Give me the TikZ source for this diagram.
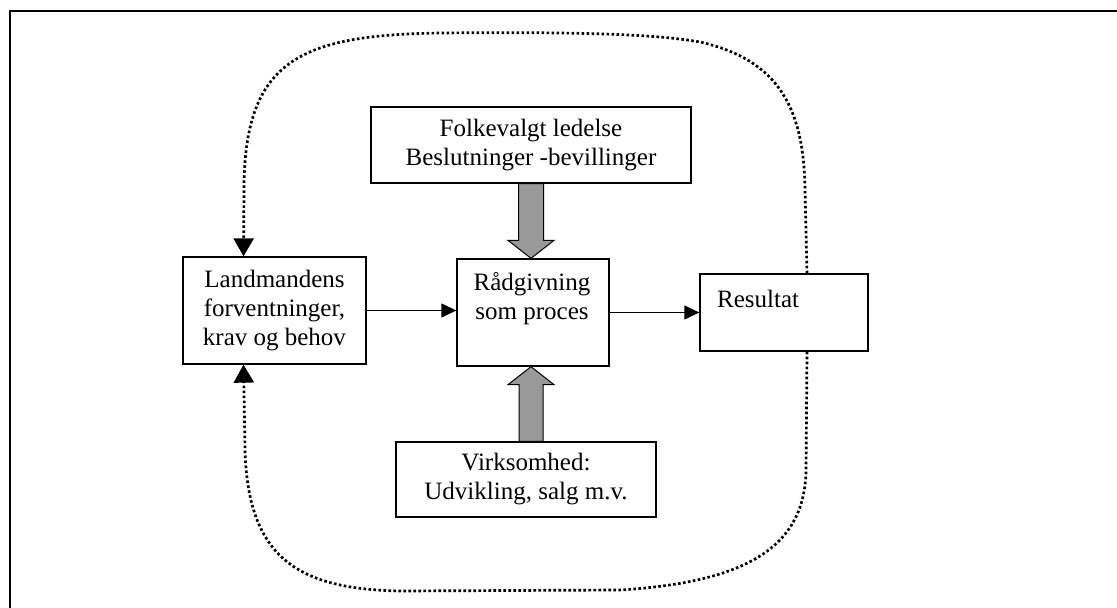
\documentclass[tikz,border=0pt]{standalone}
\usepackage{fontspec}
\setmainfont{Liberation Serif}
\usetikzlibrary{arrows.meta,calc}
\begin{document}
\begin{tikzpicture}[x=1pt,y=-1pt,
  box/.style={draw=black, line width=1.3pt, rectangle, inner sep=0pt, align=center,
    font=\fontsize{25}{29}\selectfont},
  txt/.style={inner sep=0pt, align=center, font=\fontsize{25}{29}\selectfont},
  flow/.style={line width=1.2pt, -{Triangle[length=15pt,width=14pt]}},
  loopline/.style={line width=2.7pt, dash pattern=on 2.6pt off 2.4pt,
    -{Triangle[length=18pt,width=20pt]}},
  blockarrow/.style={fill=black!40, draw=black, line width=1pt}]
\useasboundingbox (0,0) rectangle (1117,608);
\draw[line width=2pt] (9.5,610) -- (9.5,10.5) -- (1120,10.5);

\node[box, minimum width=320pt, minimum height=76pt] (F) at (531,145)
  {Folkevalgt ledelse\\Beslutninger -bevillinger};
\node[box, minimum width=152pt, minimum height=107pt] (R) at (533,312.5) {};
\node[txt, anchor=north] (Rt) at (532,272) {Rådgivning\\som proces};
\node[box, minimum width=168pt, minimum height=77pt] (Res) at (784,312.5) {};
\node[txt, anchor=base west] (Rest) at (717,307) {Resultat};
\node[box, minimum width=183pt, minimum height=107pt] (L) at (274.5,310.5)
  {Landmandens\\forventninger,\\krav og behov};
\node[box, minimum width=260pt, minimum height=75pt] (V) at (526,479.5)
  {Virksomhed:\\Udvikling, salg m.v.};

\draw[flow] (L.east) -- (L.east -| R.west);
\draw[flow] (R.east) -- (Res.west);

\coordinate (fa) at (F.south);
\coordinate (fb) at (F.south |- R.north);
\draw[blockarrow] ([xshift=-12.5pt]fa) -- ([xshift=-12.5pt,yshift=18pt]fb)
  -- ([xshift=-23pt,yshift=18pt]fb) -- (fb) -- ([xshift=23pt,yshift=18pt]fb)
  -- ([xshift=12.5pt,yshift=18pt]fb) -- ([xshift=12.5pt]fa) -- cycle;

\coordinate (va) at ([xshift=5pt]V.north);
\coordinate (vb) at (va |- R.south);
\draw[blockarrow] ([xshift=-12pt]va) -- ([xshift=-12pt,yshift=-18pt]vb)
  -- ([xshift=-23pt,yshift=-18pt]vb) -- (vb) -- ([xshift=23pt,yshift=-18pt]vb)
  -- ([xshift=12pt,yshift=-18pt]vb) -- ([xshift=12pt]va) -- cycle;

\coordinate (Lt) at ([xshift=-31pt]L.north);
\coordinate (Lb) at ([xshift=-31pt]L.south);
\coordinate (Rtop) at ([xshift=23pt]Res.north);
\coordinate (Rbot) at ([xshift=23pt]Res.south);

\draw[loopline] (Rtop) -- (805,190) .. controls (804,110) and (780,60) .. (700,42)
  .. controls (650,33) and (560,32) .. (440,33)
  .. controls (300,35) and (244,60) .. (244,190) -- (Lt);
\draw[loopline] (Rbot) -- (806,470) .. controls (805,545) and (750,582) .. (620,590)
  -- (400,591) .. controls (300,589) and (248,560) .. (245,450) -- (Lb);
\end{tikzpicture}
\end{document}
